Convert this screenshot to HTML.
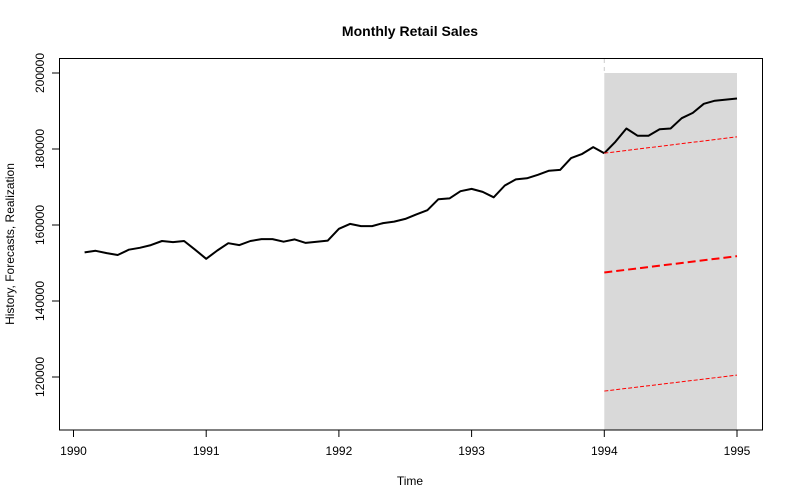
<!DOCTYPE html>
<html><head><meta charset="utf-8"><style>
body{margin:0;background:#fff}
svg{display:block;font-family:"Liberation Sans",Arial,sans-serif}
</style></head><body>
<svg id="chart" width="792" height="504" viewBox="0 0 792 504">
<text x="410" y="36" text-anchor="middle" font-size="14" font-weight="bold">Monthly Retail Sales</text>
<text x="410" y="485" text-anchor="middle" font-size="12">Time</text>
<text transform="translate(14,244) rotate(-90)" text-anchor="middle" font-size="12">History, Forecasts, Realization</text>
<g id="plot"></g>
</svg>
<script>
const historyStart = 1990 + 1/12;
const historyValues = [152.8,153.2,152.6,152.1,153.5,154.0,154.7,155.8,155.5,155.8,153.5,151.1,153.3,155.2,154.7,155.8,156.3,156.3,155.6,156.2,155.3,155.6,155.9,159.0,160.3,159.7,159.7,160.5,160.9,161.6,162.8,163.9,166.8,167.0,168.9,169.5,168.7,167.3,170.4,172.0,172.3,173.2,174.3,174.5,177.6,178.7,180.5,178.9];
const realizationValues = [181.9,185.4,183.5,183.5,185.2,185.4,188.1,189.5,191.9,192.7,193.0,193.3];
const forecastTimes = [1994, 1995];
const forecastMean = [147.5, 151.8];
const forecastUpper = [178.9, 183.2];
const forecastLower = [116.3, 120.5];
const xTicks = [1990,1991,1992,1993,1994,1995];
const yTicks = [120000,140000,160000,180000,200000];

const X = t => 73.5 + (t-1990)*132.7;
const Y = v => 73 + (200 - v)*3.8; // v in thousands
const ns = "http://www.w3.org/2000/svg";
const g = document.getElementById('plot');
function mk(tag, attrs){const e=document.createElementNS(ns,tag);for(const k in attrs)e.setAttribute(k,attrs[k]);g.appendChild(e);return e;}

// forecast band
const band = mk('rect',{x:X(1994),y:Y(200),width:X(1995)-X(1994),height:430-Y(200),fill:'#d9d9d9'});


const vl = mk('line',{x1:X(1994),y1:59,x2:X(1994),y2:Y(200),stroke:'#ccc','stroke-dasharray':'4,4'});



// history
const pts=[];
historyValues.forEach((v,i)=>pts.push(X(historyStart+i/12).toFixed(1)+','+Y(v).toFixed(1)));
const hl = mk('polyline',{points:pts.join(' '),fill:'none',stroke:'#000','stroke-width':2,'stroke-linejoin':'round'});



// realization
const rp=[X(historyStart+(historyValues.length-1)/12).toFixed(1)+','+Y(historyValues[historyValues.length-1]).toFixed(1)];
realizationValues.forEach((v,i)=>rp.push(X(historyStart+(historyValues.length+i)/12).toFixed(1)+','+Y(v).toFixed(1)));
const rl = mk('polyline',{points:rp.join(' '),fill:'none',stroke:'#000','stroke-width':2,'stroke-linejoin':'round'});



// forecasts
function fline(vals,w,dash,name){
  const l = mk('line',{x1:X(forecastTimes[0]),y1:Y(vals[0]),x2:X(forecastTimes[1]),y2:Y(vals[1]),stroke:'#ff0000','stroke-width':w,'stroke-dasharray':dash});
  
  
}
fline(forecastMean,2,'8,4','forecast-mean-line');
fline(forecastUpper,1,'4,2','forecast-upper-line');
fline(forecastLower,1,'4,2','forecast-lower-line');

// frame
const fr = mk('rect',{x:59.5,y:58.5,width:703,height:371.5,fill:'none',stroke:'#000','stroke-width':1});



// x axis
xTicks.forEach(t=>{
  const tk = mk('line',{x1:X(t),y1:430,x2:X(t),y2:437,stroke:'#000'});
  
  
  const tx = mk('text',{x:X(t),y:455,'text-anchor':'middle','font-size':12});
  tx.textContent=t;
  
  
});
// y axis
yTicks.forEach(v=>{
  const y=Y(v/1000);
  const tk = mk('line',{x1:52,y1:y,x2:59,y2:y,stroke:'#000'});
  
  
  const tx = mk('text',{x:0,y:0,'text-anchor':'middle','font-size':12,transform:`translate(44,${y}) rotate(-90)`});
  tx.textContent=v;
  
  
});
</script>
</body></html>
